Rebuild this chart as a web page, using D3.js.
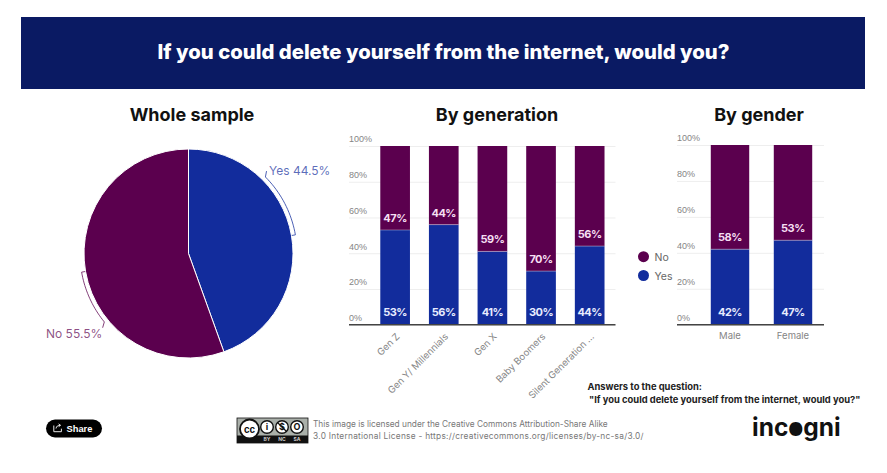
<!DOCTYPE html>
<html>
<head>
<meta charset="utf-8">
<script src="https://cdn.jsdelivr.net/npm/d3@7"></script>
<style>
  html, body { margin: 0; padding: 0; background: #fff; overflow: hidden; }
  svg { display: block; font-family: Inter, "Open Sans", sans-serif; }
  .grid line { stroke: #eeeeee; stroke-width: 1; }
  .grid text { fill: #858585; font-size: 9px; }
  .grid path { display: none; }
  .chart-title { font-size: 18px; font-weight: 700; fill: #111; text-anchor: middle; }
</style>
</head>
<body>
<script>
// Chart values
const mainTitle = "If you could delete yourself from the internet, would you?";
const pieLabels = ["Yes", "No"];
const pieValues = [44.5, 55.5];

const genCategories = ["Gen Z", "Gen Y/ Millennials", "Gen X", "Baby Boomers", "Silent Generation ..."];
const genYes = [53, 56, 41, 30, 44];
const genNo = [47, 44, 59, 70, 56];

const genderCategories = ["Male", "Female"];
const genderYes = [42, 47];
const genderNo = [58, 53];

const percentTicks = [0, 20, 40, 60, 80, 100];
const legendLabels = ["No", "Yes"];

const noteLines = ["Answers to the question:", "\"If you could delete yourself from the internet, would you?\""];
const licenseLines = [
    "This image is licensed under the Creative Commons Attribution-Share Alike",
    "3.0 International License - https://creativecommons.org/licenses/by-nc-sa/3.0/"
];

const YES_COLOR = "#122c9c";
const NO_COLOR = "#5b004e";

const svg = d3.select("body").append("svg")
    .attr("width", 887)
    .attr("height", 473);

// Header band
svg.append("rect")
    .attr("x", 21).attr("y", 17)
    .attr("width", 844).attr("height", 72)
    .attr("fill", "#0a1a63");
svg.append("text")
    .attr("x", 443.5).attr("y", 59)
    .attr("text-anchor", "middle")
    .attr("fill", "#fff")
    .attr("font-size", 20.3)
    .attr("font-weight", 800)
    .text(mainTitle);

// Pie
svg.append("text").attr("class", "chart-title").attr("x", 192).attr("y", 121).text("Whole sample");

const pieG = svg.append("g").attr("transform", "translate(188.5,253.5)");
const pieRadius = 104.5;
const pieColor = d3.scaleOrdinal().domain(pieLabels).range([YES_COLOR, NO_COLOR]);
const pieData = d3.pie().sort(null)(pieValues);
const arc = d3.arc().innerRadius(0).outerRadius(pieRadius);

pieG.selectAll(".slice")
    .data(pieData)
    .enter()
    .append("path")
    .attr("class", "slice")
    .attr("d", arc)
    .attr("fill", (d, i) => pieColor(pieLabels[i]))
    .attr("stroke", "#fff")
    .attr("stroke-width", 1);

// Leader lines run from the middle of each slice along the rim toward the label
const leaderSweep = [-0.61, -0.51];
const leaderLine = d3.lineRadial().curve(d3.curveLinear);
pieData.forEach(function (d, i) {
    const mid = (d.startAngle + d.endAngle) / 2;
    const pts = [[mid, pieRadius + 0.5]];
    d3.range(0, 1.001, 0.05).forEach(t => pts.push([mid + t * leaderSweep[i], pieRadius + 4]));
    pts.push([mid + leaderSweep[i] - 0.03, pieRadius + 9]);
    pieG.append("path")
        .attr("d", leaderLine(pts))
        .attr("fill", "none")
        .attr("stroke", pieColor(pieLabels[i]))
        .attr("stroke-opacity", 0.75)
        .attr("stroke-width", 1);
});

svg.append("text").attr("x", 269).attr("y", 175).attr("font-size", 12)
    .attr("fill", YES_COLOR).attr("fill-opacity", 0.7)
    .text(pieLabels[0] + " " + pieValues[0] + "%");
svg.append("text").attr("x", 46).attr("y", 338).attr("font-size", 12)
    .attr("fill", NO_COLOR).attr("fill-opacity", 0.7)
    .text(pieLabels[1] + " " + pieValues[1] + "%");

// Stacked bars, used for both panels
function drawStacked(opts) {
    const y = d3.scaleLinear().domain([0, 100]).range([opts.bottom, opts.top]);
    const x = d3.scaleBand()
        .domain(opts.categories)
        .range(opts.bandRange)
        .paddingInner(opts.padding)
        .paddingOuter(opts.padding / 2);

    const grid = svg.append("g")
        .attr("class", "grid")
        .attr("transform", "translate(" + opts.left + ",0)")
        .call(d3.axisRight(y)
            .tickValues(percentTicks)
            .tickSize(opts.right - opts.left)
            .tickFormat(d => d + "%"));
    grid.selectAll("text").attr("x", 0).attr("dy", "-0.45em");

    opts.categories.forEach(function (c, i) {
        svg.append("rect")
            .attr("x", x(c)).attr("width", x.bandwidth())
            .attr("y", y(opts.yes[i]))
            .attr("height", y(0) - y(opts.yes[i]))
            .attr("fill", YES_COLOR);
        svg.append("rect")
            .attr("x", x(c)).attr("width", x.bandwidth())
            .attr("y", y(100))
            .attr("height", y(opts.yes[i]) - y(100))
            .attr("fill", NO_COLOR);
        svg.append("line")
            .attr("x1", x(c)).attr("x2", x(c) + x.bandwidth())
            .attr("y1", y(opts.yes[i])).attr("y2", y(opts.yes[i]))
            .attr("stroke", "#fff").attr("stroke-opacity", 0.35);

        const cx = x(c) + x.bandwidth() / 2;
        svg.append("text")
            .attr("x", cx).attr("y", y(0) - 8.5)
            .attr("text-anchor", "middle")
            .attr("font-size", 11).attr("font-weight", 700)
            .attr("letter-spacing", -0.5)
            .attr("fill", "#e8ecff")
            .text(opts.yes[i] + "%");
        svg.append("text")
            .attr("x", cx).attr("y", y(opts.yes[i]) - 8)
            .attr("text-anchor", "middle")
            .attr("font-size", 11).attr("font-weight", 700)
            .attr("letter-spacing", -0.5)
            .attr("fill", "#f5dff2")
            .text(opts.no[i] + "%");
    });

    // Baseline
    svg.append("line")
        .attr("x1", opts.left).attr("x2", opts.right)
        .attr("y1", y(0)).attr("y2", y(0))
        .attr("stroke", "#444").attr("stroke-width", 1.5);

    // Category labels
    opts.categories.forEach(function (c) {
        const cx = x(c) + x.bandwidth() / 2;
        const label = svg.append("text")
            .attr("font-size", 9.5)
            .attr("fill", "#858585")
            .text(c);
        if (opts.rotate) {
            label.attr("text-anchor", "end")
                .attr("transform", "translate(" + (cx + 5) + "," + (y(0) + 12.5) + ") rotate(-45)");
        } else {
            label.attr("text-anchor", "middle").attr("x", cx).attr("y", y(0) + 14);
        }
    });
}

svg.append("text").attr("class", "chart-title").attr("x", 497).attr("y", 121).text("By generation");
drawStacked({
    categories: genCategories, yes: genYes, no: genNo,
    left: 349, right: 615.5, top: 146, bottom: 324.7,
    bandRange: [370.8, 614], padding: 0.39, rotate: true
});

svg.append("text").attr("class", "chart-title").attr("x", 759).attr("y", 121).text("By gender");
drawStacked({
    categories: genderCategories, yes: genderYes, no: genderNo,
    left: 677, right: 824, top: 145, bottom: 324.7,
    bandRange: [698.5, 824.5], padding: 0.39, rotate: false
});

// Legend
const legendColor = d3.scaleOrdinal().domain(legendLabels).range([NO_COLOR, YES_COLOR]);
const legendY = d3.scalePoint().domain(legendLabels).range([256.7, 275.5]);
legendLabels.forEach(function (l) {
    svg.append("circle")
        .attr("cx", 643.5).attr("cy", legendY(l)).attr("r", 5.5)
        .attr("fill", legendColor(l));
    svg.append("text")
        .attr("x", 654.5).attr("y", legendY(l) + 4)
        .attr("font-size", 10.5).attr("fill", "#666")
        .text(l);
});

// Note under the charts
svg.append("text").attr("x", 587.5).attr("y", 390)
    .attr("font-size", 9.4).attr("font-weight", 700).attr("fill", "#222").text(noteLines[0]);
svg.append("text").attr("x", 589).attr("y", 403)
    .attr("font-size", 9.4).attr("font-weight", 700).attr("fill", "#222").text(noteLines[1]);

// Share button
svg.append("rect")
    .attr("x", 46).attr("y", 419.5)
    .attr("width", 56).attr("height", 18).attr("rx", 9)
    .attr("fill", "#000");
svg.append("path")
    .attr("d", "M53.8 425.5v6.2h7.6v-3M56 428.5c.4-2.2 1.8-3.2 4-3.2m-1.4-1.4l2 1.4-2 1.4")
    .attr("fill", "none").attr("stroke", "#fff").attr("stroke-width", 0.9);
svg.append("text")
    .attr("x", 66.5).attr("y", 431.8)
    .attr("font-size", 9.3).attr("font-weight", 700).attr("fill", "#fff")
    .style("font-family", "'Liberation Sans', sans-serif")
    .text("Share");

// Creative Commons badge
const badge = svg.append("g").attr("transform", "translate(237,418)");
badge.append("rect").attr("width", 71).attr("height", 25).attr("fill", "#aab0aa").attr("stroke", "#111").attr("stroke-width", 0.8);
badge.append("rect").attr("y", 17.5).attr("width", 71).attr("height", 7.5).attr("fill", "#111");
badge.append("circle").attr("cx", 12.5).attr("cy", 11).attr("r", 9.5).attr("fill", "#fff").attr("stroke", "#111").attr("stroke-width", 1.8);
badge.append("text").attr("x", 12.5).attr("y", 14.5).attr("text-anchor", "middle")
    .attr("font-size", 9.5).attr("font-weight", 700).attr("fill", "#111").text("cc");
const badgeIcons = ["i", "$", "O"];
const badgeTags = ["BY", "NC", "SA"];
const badgeX = d3.scalePoint().domain(badgeTags).range([30, 60]);
badgeTags.forEach(function (t, i) {
    badge.append("circle").attr("cx", badgeX(t)).attr("cy", 9).attr("r", 6.3)
        .attr("fill", "#fff").attr("stroke", "#111").attr("stroke-width", 1.4);
    badge.append("text").attr("x", badgeX(t)).attr("y", 12.2).attr("text-anchor", "middle")
        .attr("font-size", 9).attr("font-weight", 700).attr("fill", "#111").text(badgeIcons[i]);
    badge.append("text").attr("x", badgeX(t)).attr("y", 23.3).attr("text-anchor", "middle")
        .attr("font-size", 5).attr("font-weight", 700).attr("fill", "#ccc").text(t);
});
// Slash through the dollar sign
badge.append("line")
    .attr("x1", badgeX("NC") - 4.5).attr("y1", 4.5)
    .attr("x2", badgeX("NC") + 4.5).attr("y2", 13.5)
    .attr("stroke", "#111").attr("stroke-width", 1.2);

// License text
svg.append("text").attr("x", 313).attr("y", 427)
    .attr("font-size", 8.3).attr("fill", "#777").text(licenseLines[0]);
svg.append("text").attr("x", 313).attr("y", 439)
    .attr("font-size", 8.3).attr("letter-spacing", 0.27).attr("fill", "#777").text(licenseLines[1]);

// Logo, the o gets filled in with a dot
const logo = svg.append("text")
    .attr("x", 752).attr("y", 436)
    .attr("font-size", 24.5).attr("font-weight", 700)
    .attr("fill", "#111")
    .text("incogni");
const oStart = logo.node().getStartPositionOfChar(3);
const oEnd = logo.node().getEndPositionOfChar(3);
svg.append("circle")
    .attr("cx", (oStart.x + oEnd.x) / 2).attr("cy", 429.2).attr("r", 6)
    .attr("fill", "#111");
</script>
</body>
</html>
